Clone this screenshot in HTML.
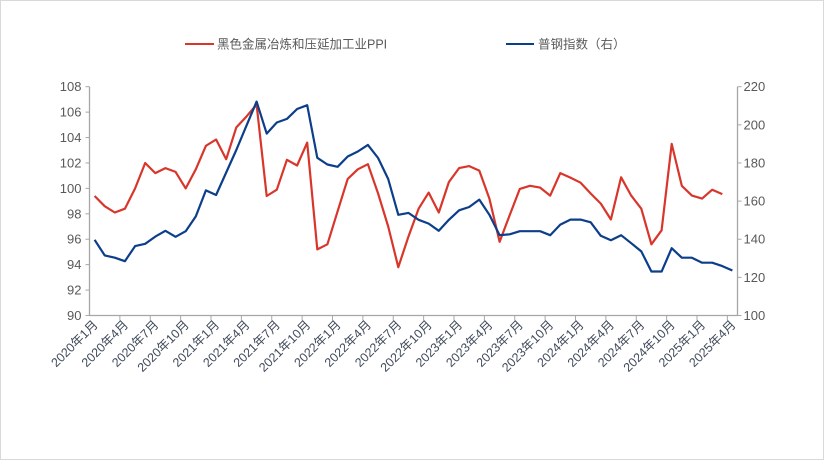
<!DOCTYPE html>
<html><head><meta charset="utf-8">
<style>
html,body{margin:0;padding:0;background:#fff;}
#wrap{position:relative;width:822px;height:458px;border:1px solid #d9d9d9;}
svg{position:absolute;left:0;top:0;font-family:"Liberation Sans","Noto Sans CJK SC",sans-serif;}
</style></head>
<body>
<div id="wrap">
<svg id="chart" width="824" height="460"></svg>
</div>
<script>
const months = [];
for (let y = 2020; y <= 2025; y++) for (let m = 1; m <= 12; m++) { if (y === 2025 && m > 4) break; months.push(y + "年" + m + "月"); }
const ppiValues = [99.4,98.6,98.1,98.4,100.0,102.0,101.2,101.6,101.3,100.0,101.5,103.35,103.85,102.3,104.8,105.65,106.6,99.4,99.9,102.25,101.8,103.6,95.2,95.6,98.2,100.75,101.5,101.9,99.6,97.0,93.8,96.2,98.4,99.67,98.1,100.5,101.6,101.75,101.4,99.2,95.8,97.9,99.96,100.2,100.06,99.43,101.2,100.85,100.45,99.6,98.8,97.55,100.87,99.43,98.4,95.6,96.7,103.5,100.2,99.43,99.2,99.9,99.55];
const steelValues = [139.7,131.5,130.3,128.5,136.4,137.6,141.4,144.4,141.3,144.2,152.0,165.6,163.2,175.0,186.8,199.5,212.2,195.4,201.2,203.1,208.3,210.3,182.7,179.2,178.0,183.4,186.0,189.5,182.6,171.6,152.8,153.8,150.2,148.2,144.4,150.2,155.2,156.9,160.8,152.8,142.1,142.6,144.2,144.2,144.2,142.1,147.7,150.3,150.3,148.9,141.8,139.5,142.1,137.9,133.6,123.1,123.1,135.3,130.3,130.3,127.7,127.7,125.9,123.6];
const leftTicks = [90,92,94,96,98,100,102,104,106,108];
const rightTicks = [100,120,140,160,180,200,220];

const NS = "http://www.w3.org/2000/svg";
const svg = document.getElementById("chart");
const X0 = 88.5, X1 = 736.5, YT = 85.7, YB = 314.5;
const catW = (X1 - X0) / months.length;
function xPos(i){ return X0 + catW * (i + 0.5); }
function yLeft(v){ return YB - (v - 90) / 18 * (YB - YT); }
function yRight(v){ return YB - (v - 100) / 120 * (YB - YT); }
function mk(tag, attrs){ const e = document.createElementNS(NS, tag); for (const k in attrs) e.setAttribute(k, attrs[k]); svg.appendChild(e); return e; }

// axes
let e = mk("line",{x1:X0,y1:YT,x2:X0,y2:YB,stroke:"#a6a6a6","stroke-width":1.3});
 
e = mk("line",{x1:X1,y1:YT,x2:X1,y2:YB,stroke:"#a6a6a6","stroke-width":1.3});
 
e = mk("line",{x1:X0,y1:YB,x2:X1,y2:YB,stroke:"#a6a6a6","stroke-width":1.3});
 

leftTicks.forEach(v=>{
  const y = yLeft(v);
  const t = mk("line",{x1:X0-4,y1:y,x2:X0,y2:y,stroke:"#a6a6a6","stroke-width":1});
   
  const l = mk("text",{x:X0-8,y:y+4.5,"text-anchor":"end","font-size":13,fill:"#595959"});
  l.textContent = v;
   
});
rightTicks.forEach(v=>{
  const y = yRight(v);
  const t = mk("line",{x1:X1,y1:y,x2:X1+4,y2:y,stroke:"#a6a6a6","stroke-width":1});
   
  const l = mk("text",{x:X1+6,y:y+4.5,"text-anchor":"start","font-size":13,fill:"#595959"});
  l.textContent = v;
   
});
for (let i = 3; i < months.length; i += 3) {
  const x = X0 + catW * i;
  const t = mk("line",{x1:x,y1:YB,x2:x,y2:YB+5,stroke:"#a6a6a6","stroke-width":1});
   
}
for (let i = 0; i < months.length; i += 3) {
  const x = xPos(i) + 4, y = YB + 10;
  const l = mk("text",{x:x,y:y,"text-anchor":"end","font-size":12.5,fill:"#404a5a",transform:"rotate(-45 "+x+" "+y+")"});
  l.textContent = months[i];
   
}

// series
const ppiPts = ppiValues.map((v,i)=>xPos(i).toFixed(1)+","+yLeft(v).toFixed(1)).join(" ");
const p1 = mk("polyline",{points:ppiPts,fill:"none",stroke:"#d9362b","stroke-width":2.2,"stroke-linejoin":"round"});
 
const steelPts = steelValues.map((v,i)=>xPos(i).toFixed(1)+","+yRight(v).toFixed(1)).join(" ");
const p2 = mk("polyline",{points:steelPts,fill:"none",stroke:"#0c3e8a","stroke-width":2.2,"stroke-linejoin":"round"});
 

// legend
let lg = mk("line",{x1:184,y1:43,x2:213,y2:43,stroke:"#d9362b","stroke-width":2});
 
let lt = mk("text",{x:216,y:47.5,"font-size":12.5,fill:"#595959"});
lt.textContent = "黑色金属冶炼和压延加工业PPI";
 
lg = mk("line",{x1:505,y1:43,x2:533,y2:43,stroke:"#0c3e8a","stroke-width":2});
 
lt = mk("text",{x:537,y:47.5,"font-size":12.5,fill:"#595959"});
lt.textContent = "普钢指数（右）";
 
</script>
</body></html>
